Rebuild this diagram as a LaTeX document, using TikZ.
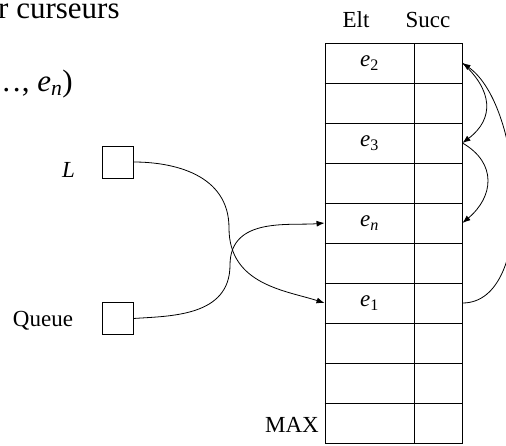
\documentclass[tikz,border=0pt]{standalone}
\usepackage{fontspec}
\setmainfont{Liberation Serif}
\usetikzlibrary{arrows.meta}

\begin{document}
\begin{tikzpicture}[x=1pt,y=1pt,
            every node/.style={font=\fontsize{23}{27}\selectfont},
            cell/.style={draw, line width=0.9pt, inner sep=0pt, minimum height=40pt},
            eltcell/.style={cell, minimum width=89pt},
            succcell/.style={cell, minimum width=48pt},
            ptr/.style={draw, line width=0.9pt, inner sep=0pt, minimum width=31pt, minimum height=32pt},
            sep/.style={draw, line width=1.8pt},
            link/.style={draw, line width=0.8pt, -{Latex[length=8pt,width=6pt]}}]
            \useasboundingbox (0,0) rectangle (506,445);
            % heading, running off to the left
            \node[anchor=base west, inner sep=0pt, font=\fontsize{31}{36}\selectfont] (t1) at (-2,426) {r curseurs};
            \node[anchor=base east, inner sep=0pt, font=\fontsize{31}{36}\selectfont] (t2) at (73,353) {\ldots, \textit{e}\textsubscript{\textit{n}})};
            % column heads
            \node[anchor=base] (hElt) at (356,417) {Elt};
            \node[anchor=base] (hSucc) at (428,417) {Succ};
            % the array
            \node[eltcell] (elt1) at (369.5,382) {\textit{e}\textsubscript{2}};
            \node[succcell] (suc1) at (438,382) {};
            \node[eltcell] (elt2) at (369.5,342) {};
            \node[succcell] (suc2) at (438,342) {};
            \node[eltcell] (elt3) at (369.5,302) {\textit{e}\textsubscript{3}};
            \node[succcell] (suc3) at (438,302) {};
            \node[eltcell] (elt4) at (369.5,262) {};
            \node[succcell] (suc4) at (438,262) {};
            \node[eltcell] (elt5) at (369.5,222) {\textit{e}\textsubscript{\textit{n}}};
            \node[succcell] (suc5) at (438,222) {};
            \node[eltcell] (elt6) at (369.5,182) {};
            \node[succcell] (suc6) at (438,182) {};
            \node[eltcell] (elt7) at (369.5,142) {\textit{e}\textsubscript{1}};
            \node[succcell] (suc7) at (438,142) {};
            \node[eltcell] (elt8) at (369.5,102) {};
            \node[succcell] (suc8) at (438,102) {};
            \node[eltcell] (elt9) at (369.5,62) {};
            \node[succcell] (suc9) at (438,62) {};
            \node[eltcell] (elt10) at (369.5,22) {};
            \node[succcell] (suc10) at (438,22) {};
            \node[anchor=base east, inner sep=1pt] (max) at (320,13) {MAX};
            % heavier lines between the rows
            \draw[sep] (elt1.south west) -- (suc1.south east);
            \draw[sep] (elt2.south west) -- (suc2.south east);
            \draw[sep] (elt3.south west) -- (suc3.south east);
            \draw[sep] (elt4.south west) -- (suc4.south east);
            \draw[sep] (elt5.south west) -- (suc5.south east);
            \draw[sep] (elt6.south west) -- (suc6.south east);
            \draw[sep] (elt7.south west) -- (suc7.south east);
            \draw[sep] (elt8.south west) -- (suc8.south east);
            \draw[sep] (elt9.south west) -- (suc9.south east);
            % head and tail cursors
            \node[ptr] (L) at (117.5,283) {};
            \node[anchor=base] (Llab) at (68.5,267) {\textit{L}};
            \node[ptr] (Q) at (117.5,126.5) {};
            \node[anchor=base] (Qlab) at (43,119) {Queue};
            \coordinate (lbend) at (229,217);
            \coordinate (qbend) at (230,180);
            \draw[link] (L.east) to[out=0, in=90, out looseness=0.85, in looseness=1.2] (lbend)
                to[out=-90, in=162, out looseness=1.2, in looseness=0.85] (elt7.west);
            \draw[link] (Q.east) to[out=4, in=-90, out looseness=0.85, in looseness=1.2] (qbend)
                to[out=90, in=185, out looseness=1.2, in looseness=0.85] (elt5.west);
            % successor chain
            \draw[link] (suc7.east) to[out=0, in=-35, looseness=0.8] (suc1.east);
            \draw[link] (suc1.east) to[out=-42, in=37, looseness=1.3] (suc3.east);
            \draw[link] (suc3.east) to[out=-30, in=40, looseness=1.3] (suc5.east);
        \end{tikzpicture}
\end{document}
